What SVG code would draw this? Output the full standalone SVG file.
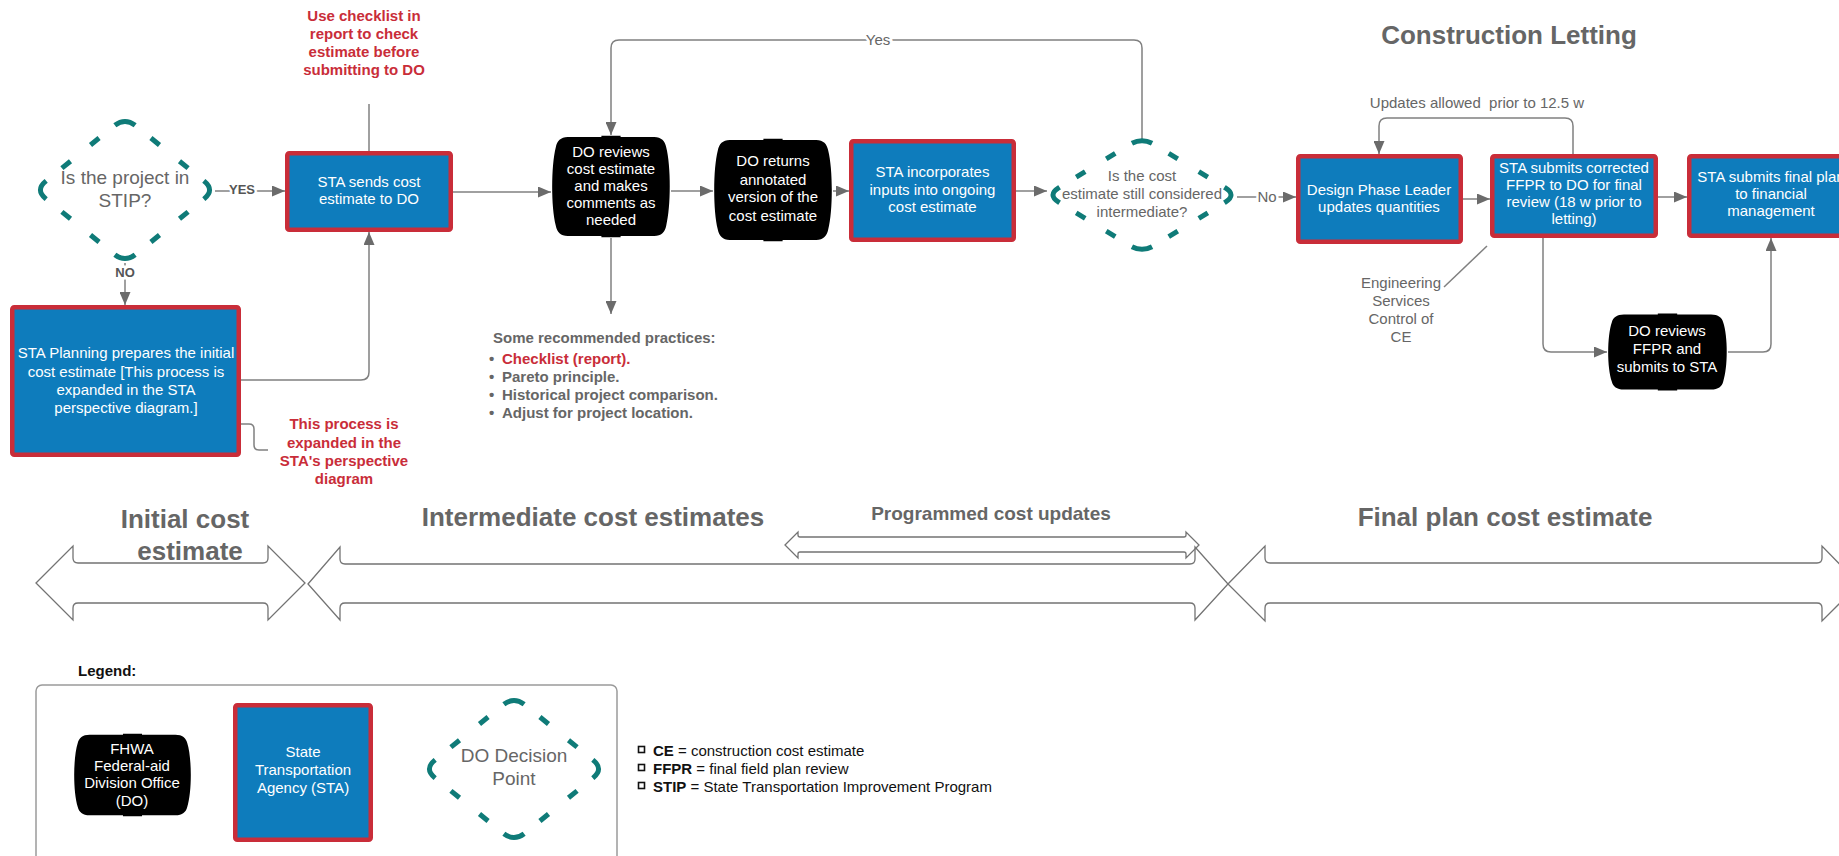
<svg xmlns="http://www.w3.org/2000/svg" xmlns:xlink="http://www.w3.org/1999/xlink" width="1839" height="856" viewBox="0 0 1839 856">
<style>
text{font-family:"Liberation Sans",Arial,Helvetica,sans-serif}
.conn{fill:none;stroke:#808080;stroke-width:1.5}
.sta{fill:#0E7CBC;stroke:#C92D39;stroke-width:4.5}
.do{fill:#000}
.w{fill:#fff;font-size:15px;text-anchor:middle}
.g{fill:#666;font-size:15px;text-anchor:middle}
.red{fill:#C92D39;font-size:15px;font-weight:bold;text-anchor:middle}
.dia{fill:none;stroke:#0F7B78;stroke-width:5;stroke-dasharray:3 5.5 3 7 3 5.5 3 0}
.blk{fill:none;stroke:#737373;stroke-width:1.3}
.big{fill:#666;font-size:26px;font-weight:bold;text-anchor:middle}
.lbl{fill:#666;font-size:15px;text-anchor:middle;stroke:#fff;stroke-width:5;paint-order:stroke}
.lblb{fill:#555;font-size:13px;font-weight:bold;text-anchor:middle;stroke:#fff;stroke-width:5;paint-order:stroke}
.leg{fill:#111;font-size:15px}
</style>
<defs>
<marker id="ah" markerUnits="userSpaceOnUse" markerWidth="13" markerHeight="11" refX="13" refY="5.5" orient="auto">
<path d="M0,0 L13,5.5 L0,11 Z" fill="#6b6b6b"/>
</marker>
<path id="doShape" d="M14,2 L42,2 L42,0.8 L58,0.8 L58,2 L86,2 C92,2 95,6 96,12 C100,30 100,70 96,88 C95,94 92,98 86,98 L58,98 L58,99.2 L42,99.2 L42,98 L14,98 C8,98 5,94 4,88 C0,70 0,30 4,12 C5,6 8,2 14,2 Z"/>
<path id="diaA" pathLength="120" d="M0,-68.59 Q5.43,-68.59 10.87,-64.18 L79.13,-8.82 Q90,0 79.13,8.82 L10.87,64.18 Q0,73 -10.87,64.18 L-79.13,8.82 Q-90,0 -79.13,-8.82 L-10.87,-64.18 Q-5.43,-68.59 0,-68.59 Z"/>
<path id="diaB" pathLength="120" d="M0,-54.35 Q5.98,-54.35 11.95,-50.70 L83.05,-7.30 Q95,0 83.05,7.30 L11.95,50.70 Q0,58 -11.95,50.70 L-83.05,7.30 Q-95,0 -83.05,-7.30 L-11.95,-50.70 Q-5.98,-54.35 0,-54.35 Z"/>
</defs>
<rect width="1839" height="856" fill="#fff"/>

<g id="connectors">
<path class="conn" d="M215,191 L285,191" marker-end="url(#ah)"/>
<path class="conn" d="M125,263 L125,305" marker-end="url(#ah)"/>
<path class="conn" d="M241,380 L361,380 Q369,380 369,372 L369,232" marker-end="url(#ah)"/>
<path class="conn" d="M369,151 L369,104"/>
<path class="conn" d="M453,192 L551,192" marker-end="url(#ah)"/>
<path class="conn" d="M611,238 L611,314" marker-end="url(#ah)"/>
<path class="conn" d="M671,191 L713,191" marker-end="url(#ah)"/>
<path class="conn" d="M833,191 L849,191" marker-end="url(#ah)"/>
<path class="conn" d="M1016,191 L1047,191" marker-end="url(#ah)"/>
<path class="conn" d="M1142,139 L1142,48 Q1142,40 1134,40 L619,40 Q611,40 611,48 L611,135" marker-end="url(#ah)"/>
<path class="conn" d="M1237,197 L1296,197" marker-end="url(#ah)"/>
<path class="conn" d="M1463,199 L1490,199" marker-end="url(#ah)"/>
<path class="conn" d="M1658,197 L1687,197" marker-end="url(#ah)"/>
<path class="conn" d="M1573,154 L1573,126 Q1573,118 1565,118 L1387,118 Q1379,118 1379,126 L1379,154" marker-end="url(#ah)"/>
<path class="conn" d="M1543,238 L1543,344 Q1543,352 1551,352 L1607,352" marker-end="url(#ah)"/>
<path class="conn" d="M1728,352 L1763,352 Q1771,352 1771,344 L1771,238" marker-end="url(#ah)"/>
<path class="conn" d="M241,424 L249,424 Q254,424 254,429 L254,445 Q254,450 259,450 L268,450"/>
<path class="conn" d="M1487,246 L1444,287" stroke-width="1.2"/>
<text class="lblb" x="242" y="194">YES</text>
<text class="lblb" x="125" y="277">NO</text>
<text class="lbl" x="878" y="45">Yes</text>
<text class="lbl" x="1267" y="202">No</text>
</g>

<g id="q-stip">
<use xlink:href="#diaA" href="#diaA" class="dia" transform="translate(125,190)"/>
<text class="g" x="125" y="184" style="font-size:19px">Is the project in</text>
<text class="g" x="125" y="207" style="font-size:19px">STIP?</text>
</g>

<g id="note-checklist">
<text class="red" x="364" y="21">Use checklist in</text>
<text class="red" x="364" y="39">report to check</text>
<text class="red" x="364" y="57">estimate before</text>
<text class="red" x="364" y="75">submitting to DO</text>
</g>

<g id="sta-sends">
<rect class="sta" x="287.25" y="153.25" width="163.5" height="76.5" rx="2"/>
<text class="w" x="369" y="187">STA sends cost</text>
<text class="w" x="369" y="204">estimate to DO</text>
</g>

<g id="sta-planning">
<rect class="sta" x="12.25" y="307.25" width="226.5" height="147.5" rx="2"/>
<text class="w" x="126" y="358">STA Planning prepares the initial</text>
<text class="w" x="126" y="377">cost estimate [This process is</text>
<text class="w" x="126" y="395">expanded in the STA</text>
<text class="w" x="126" y="413">perspective diagram.]</text>
</g>

<g id="note-expanded">
<text class="red" x="344" y="429">This process is</text>
<text class="red" x="344" y="448">expanded in the</text>
<text class="red" x="344" y="466">STA's perspective</text>
<text class="red" x="344" y="484">diagram</text>
</g>

<g id="do-reviews">
<use xlink:href="#doShape" href="#doShape" class="do" transform="translate(551,135) scale(1.2,1.03)"/>
<text class="w" x="611" y="157">DO reviews</text>
<text class="w" x="611" y="174">cost estimate</text>
<text class="w" x="611" y="191">and makes</text>
<text class="w" x="611" y="208">comments as</text>
<text class="w" x="611" y="225">needed</text>
</g>

<g id="do-returns">
<use xlink:href="#doShape" href="#doShape" class="do" transform="translate(713,138) scale(1.2,1.04)"/>
<text class="w" x="773" y="166">DO returns</text>
<text class="w" x="773" y="185">annotated</text>
<text class="w" x="773" y="202">version of the</text>
<text class="w" x="773" y="221">cost estimate</text>
</g>

<g id="sta-incorporates">
<rect class="sta" x="851.25" y="141.25" width="162.5" height="98.5" rx="2"/>
<text class="w" x="932.5" y="177">STA incorporates</text>
<text class="w" x="932.5" y="195">inputs into ongoing</text>
<text class="w" x="932.5" y="212">cost estimate</text>
</g>

<g id="practices">
<text x="493" y="343" style="fill:#666;font-size:15px;font-weight:bold">Some recommended practices:</text>
<g style="fill:#666;font-size:15px;font-weight:bold">
<text x="489" y="364">•</text>
<text x="489" y="382">•</text>
<text x="489" y="400">•</text>
<text x="489" y="418">•</text>
<text x="502" y="364" style="fill:#C92D39">Checklist (report).</text>
<text x="502" y="382">Pareto principle.</text>
<text x="502" y="400">Historical project comparison.</text>
<text x="502" y="418">Adjust for project location.</text>
</g>
</g>

<g id="q-intermediate">
<use xlink:href="#diaB" href="#diaB" class="dia" transform="translate(1142,195)"/>
<text class="g" x="1142" y="181">Is the cost</text>
<text class="g" x="1142" y="199">estimate still considered</text>
<text class="g" x="1142" y="217">intermediate?</text>
</g>

<g id="title-letting">
<text class="big" x="1509" y="44">Construction Letting</text>
</g>

<g id="note-updates">
<text class="g" x="1477" y="108" xml:space="preserve">Updates allowed  prior to 12.5 w</text>
</g>

<g id="design-leader">
<rect class="sta" x="1298.25" y="156.25" width="162.5" height="85.5" rx="2"/>
<text class="w" x="1379" y="195">Design Phase Leader</text>
<text class="w" x="1379" y="212">updates quantities</text>
</g>

<g id="sta-corrected">
<rect class="sta" x="1492.25" y="156.25" width="163.5" height="79.5" rx="2"/>
<text class="w" x="1574" y="173">STA submits corrected</text>
<text class="w" x="1574" y="190">FFPR to DO for final</text>
<text class="w" x="1574" y="207">review (18 w prior to</text>
<text class="w" x="1574" y="224">letting)</text>
</g>

<g id="sta-final">
<rect class="sta" x="1689.25" y="156.25" width="163.5" height="79.5" rx="2"/>
<text class="w" x="1771" y="182">STA submits final plan</text>
<text class="w" x="1771" y="199">to financial</text>
<text class="w" x="1771" y="216">management</text>
</g>

<g id="note-engineering">
<text class="g" x="1401" y="288">Engineering</text>
<text class="g" x="1401" y="306">Services</text>
<text class="g" x="1401" y="324">Control of</text>
<text class="g" x="1401" y="342">CE</text>
</g>

<g id="do-ffpr">
<use xlink:href="#doShape" href="#doShape" class="do" transform="translate(1607,313) scale(1.21,0.78)"/>
<text class="w" x="1667" y="336">DO reviews</text>
<text class="w" x="1667" y="354">FFPR and</text>
<text class="w" x="1667" y="372">submits to STA</text>
</g>

<g id="phase-initial">
<path class="blk" d="M36,583 L73,546 L73,558 Q73,563 78,563 L263,563 Q268,563 268,558 L268,546 L305,583 L268,620 L268,608 Q268,603 263,603 L78,603 Q73,603 73,608 L73,620 Z"/>
<text class="big" x="185" y="528">Initial cost</text>
<text class="big" x="190" y="560">estimate</text>
</g>

<g id="phase-intermediate">
<path class="blk" d="M308,584 L340,547 L340,559 Q340,564 345,564 L1190,564 Q1195,564 1195,559 L1195,547 L1228,584 L1195,620 L1195,608 Q1195,603 1190,603 L345,603 Q340,603 340,608 L340,620 Z"/>
<text class="big" x="593" y="526">Intermediate cost estimates</text>
</g>

<g id="phase-programmed">
<path class="blk" d="M785,545 L798,532 L798,535 Q798,537 800,537 L1184,537 Q1186,537 1186,535 L1186,532 L1199,545 L1186,558 L1186,554 Q1186,552 1184,552 L800,552 Q798,552 798,554 L798,558 Z"/>
<text x="991" y="520" style="fill:#666;font-size:19px;font-weight:bold;text-anchor:middle">Programmed cost updates</text>
</g>

<g id="phase-final">
<path class="blk" d="M1228,584 L1265,546 L1265,558 Q1265,563 1270,563 L1817,563 Q1822,563 1822,558 L1822,546 L1859,584 L1822,621 L1822,608 Q1822,603 1817,603 L1270,603 Q1265,603 1265,608 L1265,621 Z"/>
<text class="big" x="1505" y="526">Final plan cost estimate</text>
</g>

<g id="legend">
<text x="78" y="676" style="fill:#111;font-size:15px;font-weight:bold">Legend:</text>
<rect x="36" y="685" width="581" height="200" rx="6" fill="none" stroke="#9a9a9a" stroke-width="1.5"/>
<g id="legend-do">
<use xlink:href="#doShape" href="#doShape" class="do" transform="translate(73,733) scale(1.19,0.84)"/>
<text class="w" x="132" y="754">FHWA</text>
<text class="w" x="132" y="771">Federal-aid</text>
<text class="w" x="132" y="788">Division Office</text>
<text class="w" x="132" y="806">(DO)</text>
</g>
<g id="legend-sta">
<rect class="sta" x="235.25" y="705.25" width="135.5" height="134.5" rx="2"/>
<text class="w" x="303" y="757">State</text>
<text class="w" x="303" y="775">Transportation</text>
<text class="w" x="303" y="793">Agency (STA)</text>
</g>
<g id="legend-decision">
<use xlink:href="#diaA" href="#diaA" class="dia" transform="translate(514,769)"/>
<text class="g" x="514" y="762" style="font-size:19px">DO Decision</text>
<text class="g" x="514" y="785" style="font-size:19px">Point</text>
</g>
</g>

<g id="abbreviations">
<rect x="638.5" y="746.5" width="6" height="6" fill="none" stroke="#111" stroke-width="1.6"/>
<rect x="638.5" y="764.5" width="6" height="6" fill="none" stroke="#111" stroke-width="1.6"/>
<rect x="638.5" y="782.5" width="6" height="6" fill="none" stroke="#111" stroke-width="1.6"/>
<text class="leg" x="653" y="756"><tspan font-weight="bold">CE</tspan> = construction cost estimate</text>
<text class="leg" x="653" y="774"><tspan font-weight="bold">FFPR</tspan> = final field plan review</text>
<text class="leg" x="653" y="792"><tspan font-weight="bold">STIP</tspan> = State Transportation Improvement Program</text>
</g>
</svg>
